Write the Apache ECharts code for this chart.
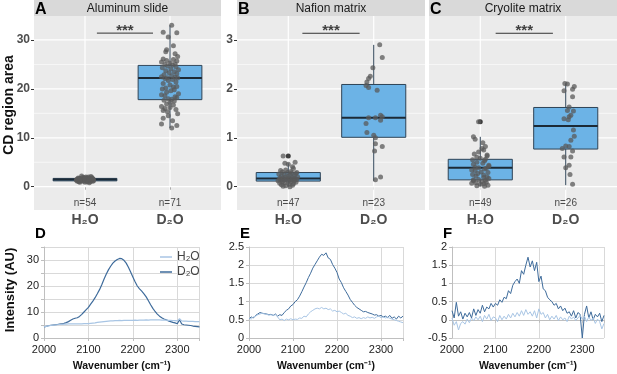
<!DOCTYPE html>
<html>
<head>
<meta charset="utf-8">
<script src="https://cdn.jsdelivr.net/npm/echarts@6/dist/echarts.min.js"></script>
<style>
  html, body { margin: 0; padding: 0; background: #fff; }
  #chart { width: 617px; height: 374px; }
</style>
</head>
<body>
<div id="chart"></div>
<script>
// ---------- top row: box plots ----------
const groupNames = ['H₂O', 'D₂O'];
const panelTitles = ['Aluminum slide', 'Nafion matrix', 'Cryolite matrix'];
const groupCounts = [[54, 71], [47, 23], [49, 26]];

// box stats: [low whisker, q1, median, q3, high whisker]
const boxAluminum = [[0.8, 1.2, 1.45, 1.7, 2.2], [12.0, 17.8, 22.2, 24.8, 33.0]];
const boxNafion = [[0.0, 0.115, 0.17, 0.29, 0.48], [0.12, 1.01, 1.41, 2.09, 2.9]];
const boxCryolite = [[0.01, 0.14, 0.39, 0.56, 1.02], [0.03, 0.77, 1.24, 1.62, 2.11]];
const outliersNafion = [[1, 0.63]];
const outliersCryolite = [[1, 1.33]];

// jittered points: [horizontal jitter, value]
const ptsAluminumH2O = [[-0.08,1.2],[-0.05,1.5],[0.02,1.8],[0.06,1.4],[-0.02,1.1],[0.09,1.6],[-0.1,1.3],[0.04,2.0],[-0.06,1.7],[0.0,0.9],
  [0.07,1.2],[-0.03,1.9],[0.1,1.5],[-0.09,1.6],[0.03,1.3],[-0.04,2.2],[0.05,0.8],[-0.07,1.0],[0.08,1.9],[0.01,1.6],
  [-0.01,1.4],[0.06,1.7],[-0.05,1.2],[0.02,1.0],[-0.08,1.8],[0.04,1.5],[0.09,1.1],[-0.02,1.7],[-0.1,1.4],[0.07,2.1],
  [0.0,1.3],[-0.06,0.9],[0.03,1.6],[0.08,1.4],[-0.03,1.5],[0.05,1.8],[-0.09,1.1],[0.01,2.0],[-0.04,1.3],[0.1,1.2],
  [0.06,1.0],[-0.07,1.7],[0.02,1.4],[-0.01,1.9],[0.04,1.1],[-0.05,1.6],[0.09,1.7],[-0.08,1.5],[0.03,1.2],[0.07,1.5],
  [-0.02,1.3],[0.0,1.7],[-0.06,1.4],[0.05,1.6]];
const ptsAluminumD2O = [[0.02,33.0],[-0.08,31.6],[0.08,31.5],[-0.02,30.6],[0.04,28.8],[-0.04,28.0],[-0.05,27.6],[0.06,27.2],[0.09,26.6],[-0.08,26.1],
  [0.04,26.0],[-0.04,25.8],[0.08,25.7],[-0.1,25.5],[0.0,25.3],[0.06,25.1],[-0.06,25.0],[0.03,24.9],
  [-0.03,24.7],[0.07,24.5],[-0.09,24.3],[0.01,24.1],[0.1,23.9],[-0.05,23.7],[0.05,23.5],[-0.01,23.3],[0.08,23.1],[-0.07,22.9],
  [0.02,22.7],[-0.1,22.5],[0.06,22.4],[-0.03,22.3],[0.09,22.2],[-0.06,22.1],[0.03,21.9],[-0.02,21.7],[0.07,21.4],[-0.08,21.1],
  [0.0,20.8],[0.08,20.5],[0.04,20.4],[-0.05,20.2],[-0.09,20.0],[0.05,19.8],[0.01,19.6],[-0.04,19.3],[0.1,19.0],[-0.1,18.8],
  [-0.06,18.6],[0.06,18.4],[0.08,18.2],[-0.02,18.0],[0.02,17.9],
  [-0.07,17.7],[0.05,17.5],[0.0,17.2],[-0.04,16.9],[0.04,16.7],[-0.1,16.4],[0.0,16.2],[-0.06,16.0],[0.07,15.8],[-0.08,15.6],
  [-0.03,15.3],[0.09,14.9],[-0.02,14.5],[-0.08,14.0],[0.03,13.5],[-0.1,12.8],[0.08,12.5],[0.02,12.0]];
const ptsNafionH2O = [[-0.06,0.63],[-0.04,0.48],[0.0,0.46],[0.05,0.41],[0.08,0.5],[0.06,0.37],[-0.03,0.34],[-0.09,0.33],[0.03,0.31],[-0.07,0.3],
  [0.1,0.29],[-0.01,0.29],[0.04,0.28],[0.09,0.27],[-0.11,0.26],[-0.05,0.25],[0.02,0.24],[0.07,0.23],[-0.08,0.22],[0.0,0.21],
  [0.11,0.2],[-0.03,0.2],[0.05,0.19],[-0.1,0.18],[-0.06,0.17],[0.08,0.17],[0.01,0.16],[-0.02,0.16],[0.1,0.15],[-0.09,0.15],
  [0.04,0.14],[-0.05,0.13],[0.07,0.12],[-0.12,0.12],[0.0,0.11],[-0.07,0.1],[0.03,0.1],[0.09,0.09],[-0.04,0.08],[-0.1,0.07],
  [0.06,0.06],[0.01,0.05],[-0.08,0.04],[0.05,0.03],[-0.03,0.02],[-0.06,0.01],[0.02,0.0]];
const ptsNafionD2O = [[0.07,2.9],[0.1,2.64],[-0.01,2.43],[-0.04,2.26],[-0.06,2.21],[-0.08,2.14],[-0.09,2.07],[-0.06,2.03],[0.04,1.97],[0.08,1.46],
  [0.1,1.43],[0.02,1.41],[-0.06,1.41],[0.08,1.36],[-0.09,1.29],[-0.08,1.11],[0.0,1.05],[0.02,1.0],[0.02,0.88],[0.1,0.82],
  [0.01,0.73],[0.08,0.2],[0.02,0.14]];
const ptsCryoliteH2O = [[-0.02,1.33],[-0.08,1.02],[-0.06,0.97],[0.03,0.9],[0.06,0.82],[0.02,0.78],[0.04,0.75],[-0.02,0.71],[-0.07,0.67],[0.08,0.65],
  [0.08,0.63],[-0.04,0.6],[0.0,0.58],[0.06,0.56],[-0.09,0.55],[0.05,0.53],[-0.04,0.5],[0.03,0.48],[-0.08,0.46],[0.1,0.44],
  [0.1,0.42],[-0.06,0.4],[-0.02,0.39],[0.07,0.38],[0.05,0.36],[-0.1,0.34],[-0.06,0.33],[0.01,0.3],[0.09,0.29],[-0.03,0.27],
  [-0.09,0.25],[0.04,0.24],[-0.05,0.22],[0.08,0.2],[0.04,0.19],[0.1,0.17],[-0.02,0.15],[-0.08,0.14],[0.06,0.13],[-0.08,0.12],
  [0.02,0.1],[0.07,0.09],[-0.05,0.08],[-0.1,0.07],[0.04,0.06],[0.0,0.05],[0.09,0.03],[-0.04,0.02],[0.05,0.01]];
const ptsCryoliteD2O = [[-0.01,2.11],[0.02,2.1],[0.1,2.05],[0.08,1.99],[-0.02,1.96],[0.08,1.84],[0.04,1.63],[0.02,1.56],[0.09,1.55],[0.06,1.46],
  [0.04,1.43],[-0.02,1.39],[0.03,1.37],[0.09,1.16],[0.1,1.03],[0.06,0.95],[0.0,0.83],[0.04,0.82],[-0.04,0.78],[0.08,0.73],
  [-0.02,0.61],[0.06,0.61],[0.04,0.44],[0.0,0.39],[0.05,0.25],[0.08,0.05]];

// significance bars: [x start, x end, y]
const signifBars = [[1.14, 1.8, 31.4], [1.165, 1.835, 3.137], [1.18, 1.85, 3.137]];

// y tick values of the top panels
const topMajorTicks = [[0, 10, 20, 30], [0, 1, 2, 3], [0, 1, 2, 3]];
const topMinorTicks = [[5, 15, 25], [0.5, 1.5, 2.5], [0.5, 1.5, 2.5]];

// ---------- bottom row: spectra (every 5 cm-1 from 2000 to 2350) ----------
const wavenumbers = Array.from({ length: 71 }, (_, i) => 2000 + 5 * i);
const specAluminumH2O = [4.3,4.5,4.7,4.8,4.9,5.0,5.1,5.2,5.2,5.3, 5.3,5.4,5.4,5.4,5.4,5.4,5.4,5.4,5.5,5.5,
  5.5,5.6,5.7,5.8,6.0,6.1,6.2,6.3,6.4,6.5, 6.6,6.6,6.7,6.7,6.8,6.7,6.8,6.8,6.8,6.8,
  6.8,6.9,6.8,6.9,6.9,6.9,7.0,6.9,7.0,7.0, 7.0,7.0,7.0,6.9,6.9,6.9,6.8,6.8,6.7,6.7,
  6.6,7.4,6.6,6.5,6.5,6.4,6.4,6.4,6.3,6.3, 6.3];
const specAluminumD2O = [4.3,4.5,4.7,4.9,5.0,5.1,5.2,5.3,5.4,5.6, 5.9,6.3,6.8,7.3,7.6,7.8,8.3,9.1,10.0,10.9,
  11.8,13.0,14.2,15.5,17.0,18.6,20.5,22.6,24.5,26.2, 27.6,28.8,29.6,30.2,30.6,30.5,29.9,28.8,27.2,25.4,
  23.5,21.6,20.0,18.9,18.0,17.0,15.8,14.3,12.8,11.4, 10.2,9.2,8.4,7.8,7.3,7.0,6.6,6.3,6.0,5.8,
  5.5,7.0,5.4,5.1,5.0,4.9,4.8,4.6,4.5,4.4, 4.3];
const specNafionH2O = [0.55,0.52,0.58,0.60,0.64,0.66,0.68,0.66,0.65,0.63, 0.64,0.62,0.64,0.58,0.50,0.52,0.48,0.52,0.50,0.53,
  0.50,0.52,0.51,0.55,0.54,0.60,0.58,0.66,0.72,0.76, 0.80,0.82,0.80,0.84,0.80,0.82,0.78,0.80,0.74,0.76,
  0.72,0.74,0.70,0.66,0.68,0.62,0.60,0.56,0.58,0.54, 0.56,0.53,0.56,0.54,0.58,0.55,0.57,0.54,0.58,0.60,
  0.56,0.58,0.55,0.57,0.54,0.52,0.50,0.48,0.46,0.44, 0.42];
const specNafionD2O = [0.52,0.58,0.55,0.62,0.66,0.70,0.68,0.67,0.66,0.64, 0.65,0.62,0.66,0.60,0.64,0.62,0.70,0.76,0.80,0.88,
  0.92,1.00,1.05,1.15,1.27,1.40,1.52,1.66,1.78,1.92, 2.02,2.12,2.22,2.30,2.27,2.34,2.20,2.16,2.02,1.92,
  1.80,1.62,1.52,1.38,1.28,1.18,1.06,0.98,0.90,0.84, 0.80,0.76,0.72,0.73,0.70,0.68,0.66,0.63,0.64,0.60,
  0.62,0.58,0.60,0.56,0.62,0.54,0.58,0.52,0.60,0.55, 0.60];
const specCryoliteH2O = [0.05,-0.15,-0.05,-0.28,-0.10,-0.05,-0.12,0.02,-0.08,0.05, -0.02,0.08,0.00,0.10,-0.05,0.12,0.02,0.15,-0.02,0.08,
  0.05,-0.05,0.12,0.00,0.10,0.02,0.15,0.05,0.18,0.08, 0.20,0.10,0.25,0.12,0.28,0.15,0.22,0.10,0.25,0.05,
  0.30,0.15,0.20,0.05,0.15,0.00,0.10,0.02,0.12,-0.02, 0.08,0.00,0.05,-0.05,0.10,0.02,0.08,-0.02,0.05,0.12,
  0.02,0.10,-0.05,0.08,-0.02,0.05,-0.10,0.02,-0.05,-0.25, -0.10];
const specCryoliteD2O = [0.25,0.05,0.48,0.10,0.22,0.02,0.18,0.08,0.20,0.05, 0.30,0.12,0.28,0.18,0.40,0.22,0.35,0.30,0.45,0.35,
  0.45,0.40,0.55,0.48,0.62,0.58,0.80,0.72,0.95,1.05, 1.12,1.00,1.35,1.25,1.50,1.72,1.45,1.62,1.35,1.58,
  1.05,1.20,0.85,0.80,0.62,0.55,0.50,0.40,0.45,0.30, 0.38,0.25,0.32,0.18,0.22,0.10,0.25,0.05,0.20,0.15,
  -0.50,0.15,0.38,0.05,0.22,0.00,0.15,0.08,0.18,-0.05, 0.12];

const font = 'Liberation Sans, Arial, sans-serif';
const colH2O = '#a8c5e4';
const colD2O = '#3e6b9b';

const boxes = [boxAluminum, boxNafion, boxCryolite];
const points = [[ptsAluminumH2O, ptsAluminumD2O], [ptsNafionH2O, ptsNafionD2O], [ptsCryoliteH2O, ptsCryoliteD2O]];
const outliers = [[], outliersNafion, outliersCryolite];
const spectra = [[specAluminumH2O, specAluminumD2O], [specNafionH2O, specNafionD2O], [specCryoliteH2O, specCryoliteD2O]];

// panel placement in px
const topPos = [[34, 221], [237, 425], [429, 617]];
const botPos = [[44, 199.5], [249, 403], [452, 604]];
const topYRange = [[-4.76, 34.9], [-0.476, 3.49], [-0.476, 3.49]];
const botYRange = [[0, 35, 5], [0, 2.5, 0.5], [-0.5, 2, 0.5]];

function renderGridLine(params, api) {
  const cs = params.coordSys;
  const dir = api.value(0);
  const v = api.value(1);
  const w = api.value(2);
  let shape;
  if (dir === 0) {
    const y = api.coord([1.5, v])[1];
    shape = { x1: cs.x, y1: y, x2: cs.x + cs.width, y2: y };
  } else {
    const x = api.coord([v, 0])[0];
    shape = { x1: x, y1: cs.y, x2: x, y2: cs.y + cs.height };
  }
  return { type: 'line', shape: shape, style: { stroke: '#fff', lineWidth: w } };
}

function renderBox(params, api) {
  const x = api.value(0);
  const lo = api.coord([x, api.value(1)]);
  const q1 = api.coord([x, api.value(2)]);
  const md = api.coord([x, api.value(3)]);
  const q3 = api.coord([x, api.value(4)]);
  const hi = api.coord([x, api.value(5)]);
  const half = api.size([0.375, 0])[0];
  const stroke = '#2e4356';
  return {
    type: 'group',
    children: [
      { type: 'line', shape: { x1: lo[0], y1: lo[1], x2: q1[0], y2: q1[1] }, style: { stroke: stroke, lineWidth: 1 } },
      { type: 'line', shape: { x1: q3[0], y1: q3[1], x2: hi[0], y2: hi[1] }, style: { stroke: stroke, lineWidth: 1 } },
      { type: 'rect', shape: { x: q1[0] - half, y: q3[1], width: half * 2, height: Math.max(q1[1] - q3[1], 1) },
        style: { fill: '#6cb3e6', stroke: stroke, lineWidth: 1 } },
      { type: 'line', shape: { x1: md[0] - half, y1: md[1], x2: md[0] + half, y2: md[1] }, style: { stroke: '#1c2a36', lineWidth: 2 } }
    ]
  };
}

const grid = [], xAxis = [], yAxis = [], series = [], graphic = [];

for (let p = 0; p < 3; p++) {
  const [L, R] = topPos[p];
  grid.push({ left: L, width: R - L, top: 16, height: 194, show: true, backgroundColor: '#ebebeb', borderWidth: 0 });
  xAxis.push({
    type: 'value', gridIndex: p, min: 0.4, max: 2.6,
    axisLine: { show: false }, splitLine: { show: false },
    axisTick: { show: true, customValues: [1, 2], length: 3, lineStyle: { color: '#333' } },
    axisLabel: {
      customValues: [1, 2], margin: 3, color: '#4d4d4d', fontSize: 14, fontWeight: 'bold', fontFamily: font,
      formatter: v => groupNames[Math.round(v) - 1]
    }
  });
  yAxis.push({
    type: 'value', gridIndex: p, min: topYRange[p][0], max: topYRange[p][1],
    axisLine: { show: false }, splitLine: { show: false },
    axisTick: { show: p < 2, customValues: topMajorTicks[p], length: 3, lineStyle: { color: '#333' } },
    axisLabel: { show: p < 2, customValues: topMajorTicks[p], margin: 4, color: '#4d4d4d', fontSize: 12, fontWeight: 'bold', fontFamily: font }
  });

  // gridlines
  const gl = [];
  topMajorTicks[p].forEach(v => gl.push([0, v, 1.2]));
  topMinorTicks[p].forEach(v => gl.push([0, v, 0.6]));
  gl.push([1, 1, 1.2], [1, 2, 1.2]);
  series.push({ type: 'custom', xAxisIndex: p, yAxisIndex: p, z: 1, silent: true, renderItem: renderGridLine, data: gl });

  // boxes
  series.push({
    type: 'custom', xAxisIndex: p, yAxisIndex: p, z: 2, silent: true, renderItem: renderBox,
    encode: { x: 0, y: [1, 2, 3, 4, 5] },
    data: boxes[p].map((b, i) => [i + 1].concat(b))
  });

  // outliers
  if (outliers[p].length) {
    series.push({ type: 'scatter', xAxisIndex: p, yAxisIndex: p, z: 3, symbolSize: 5, itemStyle: { color: '#111' }, data: outliers[p] });
  }

  // jitter points
  points[p].forEach((pts, i) => {
    series.push({
      type: 'scatter', xAxisIndex: p, yAxisIndex: p, z: 4, symbolSize: 5,
      itemStyle: { color: '#5a5a5a', opacity: 0.75 },
      data: pts.map(d => [i + 1 + d[0], d[1]])
    });
  });

  // significance bar and stars
  const sb = signifBars[p];
  const span = topYRange[p][1] - topYRange[p][0];
  series.push({
    type: 'line', xAxisIndex: p, yAxisIndex: p, z: 5, showSymbol: false, silent: true,
    lineStyle: { color: '#333', width: 1 }, data: [[sb[0], sb[2]], [sb[1], sb[2]]]
  });
  series.push({
    type: 'scatter', xAxisIndex: p, yAxisIndex: p, z: 5, symbolSize: 0, silent: true,
    label: { show: true, position: 'inside', formatter: '***', fontSize: 15, fontWeight: 'bold', color: '#111', fontFamily: font },
    data: [[(sb[0] + sb[1]) / 2, sb[2] + span * 0.011]]
  });

  // n= labels
  series.push({
    type: 'scatter', xAxisIndex: p, yAxisIndex: p, z: 5, symbolSize: 0, silent: true,
    label: { show: true, position: 'inside', formatter: d => 'n=' + d.data[2], fontSize: 10, color: '#222', fontFamily: font },
    data: groupCounts[p].map((n, i) => [i + 1, topYRange[p][0] + span * 0.037, n])
  });

  // facet header
  graphic.push({ type: 'rect', left: L, top: 0, shape: { width: R - L, height: 16 }, style: { fill: '#d9d9d9' }, z: -1 });
  graphic.push({
    type: 'text', x: (L + R) / 2, y: 8.5,
    style: { text: panelTitles[p], align: 'center', verticalAlign: 'middle', fill: '#1a1a1a', fontSize: 12, fontFamily: font }
  });
  graphic.push({
    type: 'text', x: L + 1, y: 9.5,
    style: { text: 'ABC'[p], align: 'left', verticalAlign: 'middle', fill: '#000', fontSize: 16, fontWeight: 'bold', fontFamily: font }
  });
}

for (let p = 0; p < 3; p++) {
  const g = p + 3;
  const [L, R] = botPos[p];
  const [ymin, ymax, step] = botYRange[p];
  grid.push({ left: L, width: R - L, top: 247, height: 91 });
  xAxis.push({
    type: 'value', gridIndex: g, min: 2000, max: 2350, interval: 100,
    name: 'Wavenumber (cm⁻¹)', nameLocation: 'middle', nameGap: 23,
    nameTextStyle: { fontSize: 10.5, fontWeight: 'bold', color: '#111', fontFamily: font },
    axisLine: { show: true, lineStyle: { color: '#bfbfbf' } },
    axisTick: { show: true, length: 3, lineStyle: { color: '#bfbfbf' } },
    axisLabel: { color: '#222', fontSize: 11, margin: 6, fontFamily: font, formatter: v => (v > 2300 ? '' : String(v)) },
    splitLine: { show: true, lineStyle: { color: '#d9d9d9', width: 1 } }
  });
  yAxis.push({
    type: 'value', gridIndex: g, min: ymin, max: ymax, interval: step,
    axisLine: { show: true, lineStyle: { color: '#bfbfbf' } },
    axisTick: { show: true, length: 3, lineStyle: { color: '#bfbfbf' } },
    axisLabel: {
      color: '#222', fontSize: 11, margin: 5, fontFamily: font,
      formatter: v => (p === 0 && v % 10 !== 0 ? '' : String(v))
    },
    splitLine: { show: true, lineStyle: { color: '#d9d9d9', width: 1 } }
  });
  spectra[p].forEach((s, i) => {
    series.push({
      name: groupNames[i], type: 'line', xAxisIndex: g, yAxisIndex: g, showSymbol: false, silent: true,
      z: i === 0 ? 3 : 2,
      lineStyle: { color: i === 0 ? colH2O : colD2O, width: p === 0 ? 1.2 : 1 },
      itemStyle: { color: i === 0 ? colH2O : colD2O },
      data: wavenumbers.map((w, k) => [w, s[k]])
    });
  });
  graphic.push({
    type: 'text', x: L - 9, y: 234,
    style: { text: 'DEF'[p], align: 'left', verticalAlign: 'middle', fill: '#000', fontSize: 15, fontWeight: 'bold', fontFamily: font }
  });
}

graphic.push({
  type: 'text', x: 9, y: 105, rotation: Math.PI / 2,
  style: { text: 'CD region area', align: 'center', verticalAlign: 'middle', fill: '#111', fontSize: 14, fontWeight: 'bold', fontFamily: font }
});
graphic.push({
  type: 'text', x: 10, y: 290, rotation: Math.PI / 2,
  style: { text: 'Intensity (AU)', align: 'center', verticalAlign: 'middle', fill: '#111', fontSize: 13, fontWeight: 'bold', fontFamily: font }
});

const chart = echarts.init(document.getElementById('chart'), null, { renderer: 'canvas' });
chart.setOption({
  animation: false,
  grid: grid,
  xAxis: xAxis,
  yAxis: yAxis,
  legend: {
    data: groupNames, orient: 'vertical', left: 155, top: 246, itemGap: 3,
    icon: 'rect', itemWidth: 12, itemHeight: 1.5,
    textStyle: { fontSize: 12, color: '#444', fontFamily: font }
  },
  graphic: graphic,
  series: series
});
</script>
</body>
</html>
